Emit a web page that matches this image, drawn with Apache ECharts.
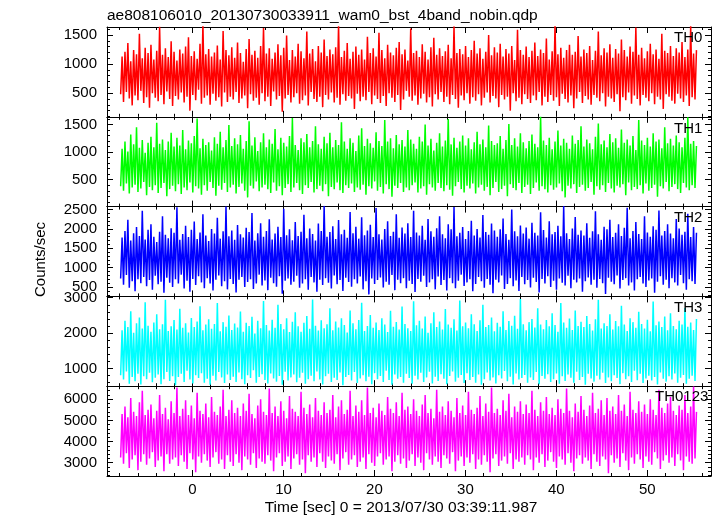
<!DOCTYPE html>
<html><head><meta charset="utf-8">
<script src="https://cdn.jsdelivr.net/npm/echarts@6/dist/echarts.min.js"></script>
<style>html,body{margin:0;padding:0;background:#fff}#c{width:717px;height:516px}</style>
</head><body><div id="c"></div>
<script>
const titleText = "ae808106010_20130730033911_wam0_bst_4band_nobin.qdp";
const xAxisTitle = "Time [sec] 0 = 2013/07/30 03:39:11.987";
const yAxisTitle = "Counts/sec";
const panelNames = ["TH0", "TH1", "TH2", "TH3", "TH0123"];
const panelColors = ["#ff0000", "#00ff00", "#0000ff", "#00ffff", "#ff00ff"];

// time grid of the light curve (sec)
const timeStart = -7.9;
const timeStep = 0.15865;

const th0 = [
480,1130,350,1210,520,1360,410,1050,290,1240,460,1170,380,1520,540,1100,330,1280,430,1190,
250,1330,500,1080,420,1230,360,1640,470,1160,310,1270,530,1120,400,1390,280,1210,450,1060,
390,1250,510,1180,340,1300,440,1460,200,1140,470,1220,380,1090,560,1350,320,1700,420,1170,
460,1260,300,1130,490,1200,370,1320,430,1080,270,1570,510,1240,350,1150,440,1290,390,1110,
520,1370,330,1190,410,1040,460,1260,240,1430,480,1160,370,1230,420,1110,300,1310,500,1620,
360,1180,440,1270,280,1090,530,1200,390,1340,450,1150,180,1280,410,1490,470,1070,340,1240,
430,1130,500,1350,320,1220,380,1100,460,1560,290,1180,520,1260,400,1050,350,1310,440,1200,
260,1420,470,1140,390,1250,510,1170,340,1290,420,1680,300,1120,480,1230,370,1360,450,1090,
410,1210,230,1300,490,1160,360,1250,440,1080,380,1470,520,1190,310,1270,460,1130,400,1540,
330,1240,450,1100,280,1330,500,1200,420,1150,350,1280,470,1380,210,1170,390,1250,540,1060,
440,1610,370,1190,460,1230,300,1120,410,1340,490,1210,340,1080,430,1290,270,1450,480,1160,
390,1270,520,1140,350,1220,440,1330,310,1100,470,1650,400,1190,250,1260,460,1170,380,1310,
500,1120,320,1240,430,1400,370,1180,480,1270,290,1090,420,1210,510,1500,340,1150,450,1290,
410,1200,260,1350,470,1130,390,1260,440,1180,200,1310,500,1070,360,1590,420,1240,310,1160,
480,1300,400,1120,330,1230,460,1370,380,1140,520,1250,290,1190,440,1440,350,1080,470,1220,
370,1690,430,1170,280,1280,490,1110,400,1240,340,1330,460,1160,240,1210,410,1480,520,1130,
330,1250,450,1190,390,1310,300,1070,470,1230,420,1560,360,1150,500,1270,270,1200,440,1340,
410,1110,350,1260,480,1180,190,1420,430,1240,380,1130,510,1300,320,1210,460,1630,400,1160,
290,1280,470,1100,420,1220,360,1350,500,1170,310,1250,440,1090,390,1520,230,1230,480,1190,
440,1310,370,1140,320,1270,490,1200,410,1380,350,1120,460,1250,280,1660,430,1180,390,1240];

const th1 = [
380,1060,300,1190,430,1010,250,1320,360,1140,410,1450,280,1080,340,1220,460,990,220,1170,
370,1280,310,1090,400,1530,260,1150,350,1230,440,1040,200,1190,330,1350,390,1100,290,1260,
420,1120,240,1400,360,1050,310,1210,450,1160,270,1290,380,1610,340,1070,230,1240,400,1130,
300,1180,460,1030,350,1270,210,1150,390,1370,320,1090,440,1220,280,1490,360,1110,410,1250,
250,1140,370,1310,430,1060,300,1200,180,1560,390,1120,340,1270,470,1020,290,1180,360,1340,
410,1090,330,1230,260,1150,450,1420,300,1050,380,1260,220,1170,350,1100,420,1290,280,1620,
360,1130,440,1040,310,1250,240,1180,400,1330,350,1090,460,1200,270,1470,330,1140,390,1060,
290,1280,420,1160,200,1350,370,1090,330,1220,450,1130,310,1540,260,1190,400,1060,350,1250,
430,1170,280,1020,360,1300,320,1430,410,1110,230,1240,380,1160,340,1080,470,1360,300,1200,
370,1110,250,1580,420,1190,330,1250,190,1070,390,1310,350,1140,440,1220,280,1100,360,1400,
310,1230,400,1150,450,1060,270,1280,340,1190,380,1500,230,1120,420,1240,360,1030,300,1170,
440,1340,350,1100,290,1210,400,1600,320,1140,210,1260,380,1080,460,1190,330,1300,270,1120,
390,1250,340,1050,430,1180,250,1370,360,1140,410,1230,300,1090,370,1480,220,1200,350,1130,
460,1160,280,1290,330,1060,390,1220,200,1510,420,1130,350,1250,310,1100,440,1340,260,1180,
370,1070,410,1200,240,1320,350,1150,450,1090,300,1640,380,1210,330,1130,270,1260,400,1050,
320,1190,360,1390,430,1120,290,1240,180,1170,390,1060,340,1300,420,1150,260,1220,370,1470,
410,1100,300,1230,350,1160,460,1050,230,1280,380,1520,320,1140,400,1210,280,1090,440,1330,
340,1180,270,1250,390,1080,360,1410,420,1170,220,1230,450,1120,310,1290,370,1040,330,1580,
400,1210,250,1130,430,1260,300,1100,350,1340,410,1190,190,1230,380,1070,340,1450,460,1160,
290,1240,370,1120,420,1300,330,1180,260,1090,440,1260,360,1630,310,1150,400,1200,350,1110];

const th2 = [
720,1780,560,1950,810,2240,480,1700,650,1890,390,2050,700,1820,600,2470,760,1730,520,1980,
680,2120,430,1800,790,1660,570,1930,640,2330,350,1850,740,1760,610,2020,500,1900,700,2560,
590,1720,820,1870,460,2080,660,1790,380,1980,710,2190,550,1740,780,1910,620,2380,470,1830,
730,1690,590,2000,410,1880,690,2290,800,1750,520,1940,650,2580,440,1810,710,1960,580,1720,
360,2100,690,1860,760,1780,500,2030,630,1920,700,2410,450,1700,590,1890,820,2150,540,1800,
670,1950,420,2250,740,1730,600,1880,510,2060,780,1790,330,2520,660,1840,720,1990,560,1710,
640,2180,790,1820,480,1930,590,2370,700,1760,430,2010,760,1870,620,1700,380,2140,690,1950,
550,2600,730,1800,610,1920,460,2070,800,1740,570,2230,680,1860,400,1980,740,1770,630,2440,
510,1890,700,2060,590,1750,770,2300,440,1840,650,1960,310,2110,720,1790,580,2540,680,1860,
750,1730,490,2000,640,2200,560,1820,810,1930,420,2380,690,1770,600,2040,730,1880,470,2150,
660,1790,580,2470,370,1910,710,1830,640,2080,790,1720,500,2260,620,1940,700,1800,440,2020,
770,2330,550,1860,680,1760,410,2120,730,1990,600,2570,470,1810,660,1900,820,2050,530,1740,
620,1950,700,2210,390,1830,580,2000,760,1780,650,2360,480,1920,710,1850,560,2140,340,1960,
690,1800,620,1990,800,2270,450,1870,580,1720,730,2500,520,1940,670,1810,400,2090,760,1880,
570,2040,680,1750,490,2160,740,1900,630,1830,360,2430,710,1970,590,1780,780,2200,500,1860,
660,1920,430,2080,720,1810,610,2590,540,1890,790,1740,470,2010,690,2310,620,1850,720,1960,
380,1830,650,2150,750,1770,560,1940,690,2460,480,1860,710,1720,600,2060,320,1990,740,2240,
640,1790,570,1900,800,2120,460,1820,680,2030,730,2550,540,1760,620,1950,410,2180,700,1870,
760,1740,590,2330,500,1910,670,1800,720,2070,350,1980,640,2480,780,1830,560,1950,690,2120,
470,1880,730,1760,620,2260,540,2010,810,1850,600,1930,430,2390,700,1790,650,2050,580,1900];

const th3 = [
810,2080,690,2350,920,2170,570,2620,760,2010,640,2280,850,2440,550,2130,780,2870,700,2210,
880,2040,610,2300,740,2530,830,2110,560,2250,700,2940,900,2060,650,2190,780,2370,530,2100,
760,2690,850,2150,620,2280,940,2020,690,2430,580,2170,810,2330,730,2760,870,2080,600,2240,
710,2390,540,2120,800,2260,660,2850,900,2050,750,2310,590,2180,830,2500,680,2090,770,2270,
620,2160,890,2610,700,2040,560,2290,810,2200,730,2460,950,1990,600,2350,760,2140,840,2910,
680,2230,580,2070,860,2380,720,2150,630,2800,790,2260,540,2110,910,2420,660,2030,750,2320,
830,2590,610,2190,740,2040,880,2290,570,2480,700,2120,800,2950,640,2210,920,2070,690,2360,
550,2140,780,2250,850,2700,620,2080,740,2330,680,2160,890,2420,530,2230,760,2020,820,2640,
660,2280,900,2110,590,2370,720,2860,810,2060,640,2200,770,2510,560,2150,870,2300,700,2090,
790,2420,620,2240,940,2030,680,2630,540,2180,830,2310,710,2100,760,2750,600,2260,850,2140,
730,2060,570,2900,800,2220,690,2350,880,2130,620,2470,750,2010,910,2280,580,2590,770,2170,
650,2330,840,2100,710,2680,560,2240,790,2150,920,2390,630,2070,740,2920,820,2190,590,2300,
870,2140,680,2530,760,2250,600,2060,830,2360,540,2800,700,2170,890,2230,660,2440,750,2050,
580,2290,810,2180,720,2620,930,2090,640,2340,770,2210,550,2490,860,2120,690,2960,730,2250,
820,2080,600,2310,750,2400,680,2160,900,2700,560,2240,790,2110,710,2370,840,2190,620,2560,
700,2230,860,2040,570,2850,780,2300,650,2150,830,2410,740,2090,600,2640,910,2200,680,2320,
760,2170,540,2480,850,2260,720,2070,630,2390,800,2940,690,2130,880,2280,590,2200,750,2530,
640,2100,810,2340,730,2190,560,2770,870,2240,700,2060,780,2420,620,2310,940,2150,670,2600,
850,2260,590,2130,720,2380,800,2050,660,2890,760,2220,550,2330,890,2170,710,2470,630,2080,
780,2560,690,2200,860,2110,600,2350,740,2240,820,2710,570,2180,710,2300,800,2090,650,2400];

const th0123 = [
3250,5300,2950,5650,3450,5150,2750,6050,3150,5400,3350,5200,2650,5850,3050,6400,3400,5250,2900,5500,
3200,5750,3500,5100,2800,5450,3100,6200,3300,5300,2600,5600,3400,5050,2950,5900,3150,5350,3250,6550,
2850,5200,3350,5550,3050,5950,2700,5250,3450,5700,3150,5100,2550,6300,3300,5450,3000,5300,3400,5800,
3100,5150,2800,6100,3250,5400,3500,5250,2950,5650,3150,6450,2700,5200,3350,5500,3050,5950,2850,5350,
3400,5600,3000,5200,2650,5800,3300,5450,3150,6250,2900,5300,3450,5100,2750,5700,3200,6000,3050,5400,
2950,5250,3350,6500,3100,5350,2600,5650,3250,5200,3450,5900,2850,5450,3050,5100,3300,6150,2700,5550,
3200,5400,3400,5200,2900,6350,3150,5600,2500,5300,3350,5750,3050,5150,3250,6050,2800,5450,3450,5250,
3050,5850,2750,5350,3300,5500,3100,6200,2950,5150,3400,5650,2650,5950,3200,5300,3500,5500,2900,6400,
3150,5200,3350,5700,2800,5400,3050,5950,3250,5250,2700,6550,3400,5350,3000,5600,2850,5150,3300,5800,
3450,5450,2900,5250,3150,6100,3300,5550,2600,5350,3050,5850,3350,5200,2950,6300,3200,5500,2750,5650,
3100,5300,3400,6000,2850,5450,3250,5200,3000,5750,2650,6200,3450,5350,3150,5550,2900,5100,3300,6450,
3050,5400,2750,5650,3350,5250,3200,5900,2950,5450,3500,5150,2600,6050,3100,5350,3300,5700,2850,5250,
3250,6350,3000,5500,3400,5300,2700,5600,3150,6150,2900,5200,3350,5800,3050,5400,2550,6550,3200,5350,
3400,5550,2850,5250,3100,5950,3300,5450,2950,6250,3450,5150,2700,5650,3150,5400,3050,5900,3250,5300,
2900,5750,3350,5350,3150,6400,2650,5500,3250,5200,3000,5850,3400,5450,2800,6100,3100,5300,3500,5600,
3050,5250,2750,6000,3300,5550,3150,5350,2900,6500,3450,5450,3000,5150,2600,5800,3200,5400,3350,6150,
2950,5500,3250,5200,3100,5700,2700,6300,3400,5350,3050,5550,2850,5950,3300,5250,3150,6050,2500,5450,
3350,5650,3000,5300,3200,6200,2800,5450,3450,5750,3100,5200,2650,6350,3250,5500,2950,5350,3400,5900,
3150,5400,2750,5750,3300,5300,3050,6000,2900,5500,3500,5250,3200,6450,2700,5600,3100,5350,3350,5800,
3000,6100,3250,5450,2850,5250,3400,5700,3100,5500,2650,6200,3300,5350,3050,5650,2950,6600,3200,5400];

const seriesValues = [th0, th1, th2, th3, th0123];

const xRange = [-9.4, 57.0];
const xMajorTicks = [0, 10, 20, 30, 40, 50];
const xMinorTicks = [-8,-6,-4,-2,2,4,6,8,12,14,16,18,22,24,26,28,32,34,36,38,42,44,46,48,52,54,56];

const yRanges = [[94, 1637], [13, 1640], [258, 2578], [501, 3037], [2373, 6613]];
const yMajorTicks = [
  [500, 1000, 1500],
  [500, 1000, 1500],
  [500, 1000, 1500, 2000, 2500],
  [1000, 2000, 3000],
  [3000, 4000, 5000, 6000]
];
const yMinorTicks = [
  [100,200,300,400,600,700,800,900,1100,1200,1300,1400,1600],
  [100,200,300,400,600,700,800,900,1100,1200,1300,1400,1600],
  [300,400,600,700,800,900,1100,1200,1300,1400,1600,1700,1800,1900,2100,2200,2300,2400],
  [600,800,1200,1400,1600,1800,2200,2400,2600,2800],
  [2400,2600,2800,3200,3400,3600,3800,4200,4400,4600,4800,5200,5400,5600,5800,6200,6400,6600]
];

// ---- layout ----
const FONT = "Liberation Sans, Arial, Helvetica, sans-serif";
const plotLeft = 107, plotWidth = 604, plotTop = 27, panelH = 89.8;
const nPanels = panelNames.length;

const grids = [], xAxes = [], yAxes = [], series = [], graphics = [];

function mkAxis(base, opts) {
  return Object.assign({
    type: 'value', splitLine: { show: false }, silent: true,
    axisLine: { show: opts.line, onZero: false, lineStyle: { color: '#000', width: 1 } },
    axisTick: { show: true, inside: true, length: opts.len, customValues: opts.ticks, lineStyle: { color: '#000', width: 1 } },
    axisLabel: opts.labels ? { show: true, customValues: opts.ticks, margin: opts.margin, fontSize: 15, color: '#000', fontFamily: FONT, formatter: v => String(v) } : { show: false }
  }, base);
}

for (let g = 0; g < nPanels; g++) {
  grids.push({ left: plotLeft, top: plotTop + g * panelH, width: plotWidth, height: panelH, containLabel: false });
  const xb = { gridIndex: g, min: xRange[0], max: xRange[1] };
  xAxes.push(mkAxis(Object.assign({ position: 'bottom' }, xb), { line: true, len: 6, ticks: xMajorTicks, labels: g === nPanels - 1, margin: 6 }));
  xAxes.push(mkAxis(Object.assign({ position: 'bottom' }, xb), { line: false, len: 3, ticks: xMinorTicks, labels: false }));
  xAxes.push(mkAxis(Object.assign({ position: 'top' }, xb), { line: true, len: 6, ticks: xMajorTicks, labels: false }));
  xAxes.push(mkAxis(Object.assign({ position: 'top' }, xb), { line: false, len: 3, ticks: xMinorTicks, labels: false }));
  const yb = { gridIndex: g, min: yRanges[g][0], max: yRanges[g][1] };
  yAxes.push(mkAxis(Object.assign({ position: 'left' }, yb), { line: true, len: 6, ticks: yMajorTicks[g], labels: true, margin: 10 }));
  yAxes.push(mkAxis(Object.assign({ position: 'left' }, yb), { line: false, len: 3, ticks: yMinorTicks[g], labels: false }));
  yAxes.push(mkAxis(Object.assign({ position: 'right' }, yb), { line: true, len: 6, ticks: yMajorTicks[g], labels: false }));
  yAxes.push(mkAxis(Object.assign({ position: 'right' }, yb), { line: false, len: 3, ticks: yMinorTicks[g], labels: false }));

  const vals = seriesValues[g];
  series.push({
    type: 'line', name: panelNames[g], xAxisIndex: g * 4, yAxisIndex: g * 4,
    data: vals.map((v, i) => [+(timeStart + i * timeStep).toFixed(4), v]),
    showSymbol: false, symbol: 'none', clip: true, silent: true,
    lineStyle: { width: 1.5, color: panelColors[g] }, itemStyle: { color: panelColors[g] },
    animation: false
  });
}

const labelPos = [[674, 37.5], [674, 128.5], [674, 218], [674, 307.5], [655, 397]];
for (let g = 0; g < nPanels; g++) {
  graphics.push({ type: 'text', x: labelPos[g][0], y: labelPos[g][1], z: 100,
    style: { text: panelNames[g], fontSize: 15, fontFamily: FONT, fill: '#000', align: 'left', verticalAlign: 'middle' } });
}
graphics.push({ type: 'text', x: 107, y: 16, z: 100,
  style: { text: titleText, fontSize: 15.5, fontFamily: FONT, fill: '#000', align: 'left', verticalAlign: 'middle' } });
graphics.push({ type: 'text', x: 401, y: 507.5, z: 100,
  style: { text: xAxisTitle, fontSize: 15.5, fontFamily: FONT, fill: '#000', align: 'center', verticalAlign: 'middle' } });
graphics.push({ type: 'text', x: 41, y: 259.5, rotation: Math.PI / 2, z: 100,
  style: { text: yAxisTitle, fontSize: 15, fontFamily: FONT, fill: '#000', align: 'center', verticalAlign: 'middle' } });

const chart = echarts.init(document.getElementById('c'), null, { renderer: 'canvas' });
chart.setOption({
  backgroundColor: '#fff',
  animation: false,
  grid: grids, xAxis: xAxes, yAxis: yAxes, series: series,
  graphic: graphics
});
</script></body></html>
